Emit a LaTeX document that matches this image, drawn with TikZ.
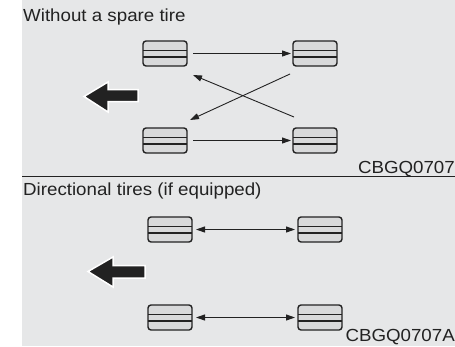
\documentclass[tikz,border=0pt]{standalone}
\usepackage{fontspec}
\setmainfont{Liberation Sans}[FakeStretch=1.07]
\usetikzlibrary{arrows.meta}
\definecolor{bg}{HTML}{E6E7E8}
\definecolor{tirefill}{HTML}{D8D9DA}
\definecolor{ink}{HTML}{222222}
\tikzset{
  tire/.style={draw=ink, line width=1.4pt, fill=tirefill, rounded corners=3pt, minimum width=44pt, minimum height=25pt, inner sep=0pt, outer sep=0pt,
    path picture={\draw[ink, line width=1.1pt] ([yshift=-9.5pt]path picture bounding box.north west) -- ([yshift=-9.5pt]path picture bounding box.north east);
                  \draw[ink, line width=1.1pt] ([yshift=9pt]path picture bounding box.south west) -- ([yshift=9pt]path picture bounding box.south east);}},
  move/.style={ink, line width=0.9pt, -{Triangle[length=9pt,width=6pt]}},
  both/.style={ink, line width=0.9pt, {Triangle[length=9pt,width=6pt]}-{Triangle[length=9pt,width=6pt]}},
  bigarrow/.style={fill=ink, draw=white, line width=1.5pt, line join=miter},
  label/.style={font=\fontsize{17.5}{17.5}\selectfont, inner sep=0pt, text=ink}
}
\begin{document}
\begin{tikzpicture}[x=1pt,y=-1pt]
\useasboundingbox (0,0) rectangle (455,346);
\fill[bg] (22,0) rectangle (455,346);
\draw[ink, line width=1pt] (22,176) -- (455,176);
% top panel
\node[label, anchor=base west] (t1) at (23,21.7) {Without a spare tire};
\node[tire] (fl) at (165,53.5) {};
\node[tire] (fr) at (315,53.5) {};
\node[tire] (rl) at (165,140.5) {};
\node[tire] (rr) at (315,140.5) {};
\coordinate (x1s) at (290,74);
\coordinate (x1e) at (190,120);
\coordinate (x2s) at (294,117);
\coordinate (x2e) at (193,75);
\draw[move] (fl.east) ++(6,0) -- ([xshift=-2pt]fr.west);
\draw[move] (rl.east) ++(6,0) -- ([xshift=-2pt]rr.west);
\draw[move] (x1s) -- (x1e);
\draw[move] (x2s) -- (x2e);
\draw[bigarrow] (84,96.5) -- (108,82) -- (108,89.5) -- (138,89.5) -- (138,101.5) -- (108,101.5) -- (108,112) -- cycle;
\node[label, anchor=base east] (c1) at (455,173.3) {CBGQ0707};
% bottom panel
\node[label, anchor=base west] (t2) at (23,195.5) {Directional tires (if equipped)};
\node[tire] (dfl) at (170,229.5) {};
\node[tire] (dfr) at (320,229.5) {};
\node[tire] (drl) at (170,317.5) {};
\node[tire] (drr) at (320,317.5) {};
\draw[both] ([xshift=4pt]dfl.east) -- ([xshift=-3pt]dfr.west);
\draw[both] ([xshift=4pt]drl.east) -- ([xshift=-3pt]drr.west);
\draw[bigarrow] (88,271.5) -- (113,257) -- (113,265.5) -- (145,265.5) -- (145,278) -- (113,278) -- (113,287) -- cycle;
\node[label, anchor=base east] (c2) at (455,341.7) {CBGQ0707A};
\end{tikzpicture}
\end{document}
